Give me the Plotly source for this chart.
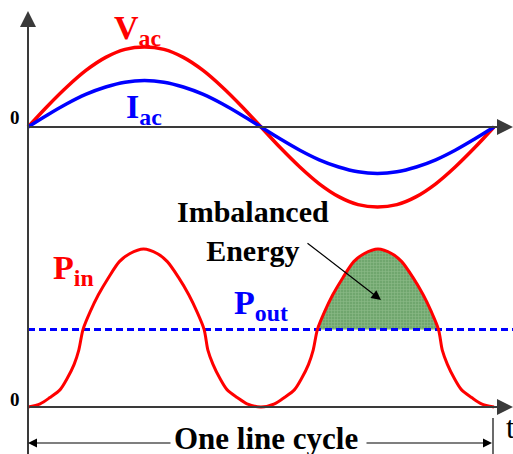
import plotly.graph_objects as go

# ---------------- data ----------------
# time in fractions of one line cycle
t_ac = [0, 1/24, 2/24, 3/24, 4/24, 5/24, 6/24, 7/24, 8/24, 9/24, 10/24, 11/24, 12/24,
        13/24, 14/24, 15/24, 16/24, 17/24, 18/24, 19/24, 20/24, 21/24, 22/24, 23/24, 1]
v_ac = [0, .26, .50, .71, .87, .97, 1.0, .97, .87, .71, .50, .26, 0,
        -.26, -.50, -.71, -.87, -.97, -1.0, -.97, -.87, -.71, -.50, -.26, 0]
i_ac = [0, .15, .29, .41, .50, .56, .58, .56, .50, .41, .29, .15, 0,
        -.15, -.29, -.41, -.50, -.56, -.58, -.56, -.50, -.41, -.29, -.15, 0]

t_p = [0, .026, .047, .069, .084, .099, .109, .118, .133, .151, .173, .196, .218, .248,
       .278, .299, .323, .345, .363, .378, .386, .397, .412, .427, .449, .470, .5,
       .529, .550, .572, .587, .602, .612, .621, .636, .654, .676, .699, .721, .751,
       .781, .802, .826, .848, .866, .881, .889, .900, .915, .930, .952, .973, 1.0]
p_in = [0, .02, .06, .11, .18, .27, .36, .49, .60, .71, .82, .92, .97, 1.0,
        .97, .92, .82, .71, .60, .49, .36, .27, .18, .11, .06, .02, 0,
        .02, .06, .11, .18, .27, .36, .49, .60, .71, .82, .92, .97, 1.0,
        .97, .92, .82, .71, .60, .49, .36, .27, .18, .11, .06, .02, 0]
p_out = 0.49

# ---------------- geometry helpers (layout only) ----------------
W, H = 513, 454
X0, XS = 28, 466          # pixel of t=0, pixels per cycle
PY0, PS = 407, 158        # power axis zero pixel, pixels per unit
VY0, VS = 127, 80         # voltage axis zero pixel, pixels per unit


def X(px):
    return (px - X0) / XS


def Y(py):
    return (PY0 - py) / PS


RED = "#ff0000"
BLUE = "#0000ff"
AX = "#3a3a3a"
FONT = "Liberation Serif"

fig = go.Figure()

# imbalanced-energy fill (second hump, above Pout)
fx, fy = [], []
half = len(t_p) // 2
for k in range(half, len(t_p) - 1):
    a, b = p_in[k], p_in[k + 1]
    if a >= p_out:
        fx.append(t_p[k]); fy.append(a)
    if (a - p_out) * (b - p_out) < 0:
        r = (p_out - a) / (b - a)
        fx.append(t_p[k] + r * (t_p[k + 1] - t_p[k])); fy.append(p_out)
fx.append(fx[0]); fy.append(fy[0])
fig.add_trace(go.Scatter(
    x=fx, y=fy, mode="lines", fill="toself", line=dict(width=0),
    fillcolor="rgb(120,172,118)",
    fillpattern=dict(shape="+", bgcolor="rgb(112,166,110)", fgcolor="rgb(168,206,162)",
                     size=3, solidity=0.35),
    hoverinfo="skip", showlegend=False))

fig.add_trace(go.Scatter(x=t_ac, y=v_ac, yaxis="y2", mode="lines", line_shape="spline",
                         line=dict(color=RED, width=3.5), showlegend=False))
fig.add_trace(go.Scatter(x=t_ac, y=i_ac, yaxis="y2", mode="lines", line_shape="spline",
                         line=dict(color=BLUE, width=3.5), showlegend=False))
fig.add_trace(go.Scatter(x=[0, X(W)], y=[p_out, p_out], mode="lines",
                         line=dict(color=BLUE, width=3, dash="7px,4px"), showlegend=False))
fig.add_trace(go.Scatter(x=t_p, y=p_in, mode="lines", line_shape="spline",
                         line=dict(color=RED, width=3, smoothing=0.8), showlegend=False))

ann = []


def arrow(x, y, ax, ay, color, width, yref="y", head=2, size=1.0):
    ann.append(dict(x=x, y=y, ax=ax, ay=ay, xref="x", yref=yref, axref="x", ayref=yref,
                    text="", showarrow=True, arrowhead=head, arrowsize=size,
                    arrowwidth=width, arrowcolor=color, standoff=0, startstandoff=0))


# axes
arrow(0, Y(11), 0, Y(470), AX, 2, size=1.6)
arrow(X(W), 0, 0, 0, AX, 2, yref="y2", size=1.6)
arrow(X(W), 0, 0, 0, AX, 2, size=1.6)
# one line cycle arrows
arrow(X(28), Y(443), X(172), Y(443), "black", 1.2, head=2, size=1.5)
arrow(X(492), Y(443), X(365), Y(443), "black", 1.2, head=2, size=1.5)
# imbalanced energy pointer
arrow(X(381), Y(300), X(306), Y(242), "black", 1.2, head=2, size=1.6)


def label(text, px, py_top, size, color="black", xanchor="left", bold=True):
    ann.append(dict(x=X(px), y=Y(py_top), xref="x", yref="y", text=text, showarrow=False,
                    xanchor=xanchor, yanchor="top", align="center",
                    font=dict(family=FONT, size=size, color=color,
                              weight="bold" if bold else "normal")))


label("V<sub>ac</sub>", 112, 7, 34, RED)
label("I<sub>ac</sub>", 124, 86, 34, BLUE)
label("P<sub>in</sub>", 51, 247, 34, RED)
label("P<sub>out</sub>", 232, 282, 34, BLUE)
label("Imbalanced<br>Energy", 253, 193, 30, xanchor="center")
label("One line cycle", 266, 419, 31, xanchor="center")
label("0", 15, 105, 19, xanchor="center")
label("0", 15, 387, 19, xanchor="center")
label("t", 504, 408, 31, bold=False)

fig.update_layout(
    width=W, height=H, margin=dict(l=0, r=0, t=0, b=0),
    paper_bgcolor="white", plot_bgcolor="white",
    xaxis=dict(range=[X(0), X(W)], visible=False, fixedrange=True),
    yaxis=dict(range=[Y(H), Y(0)], visible=False, fixedrange=True),
    yaxis2=dict(range=[(VY0 - H) / VS, VY0 / VS], overlaying="y", visible=False,
                fixedrange=True),
    shapes=[dict(type="line", xref="x", yref="y", x0=X(493), x1=X(493), y0=Y(418), y1=Y(H + 5),
                 line=dict(color=AX, width=1.5))],
    annotations=ann,
    showlegend=False,
)

fig.write_html("out.html", config={"displayModeBar": False},
               post_script="document.body.style.margin='0';document.body.style.overflow='hidden';")
